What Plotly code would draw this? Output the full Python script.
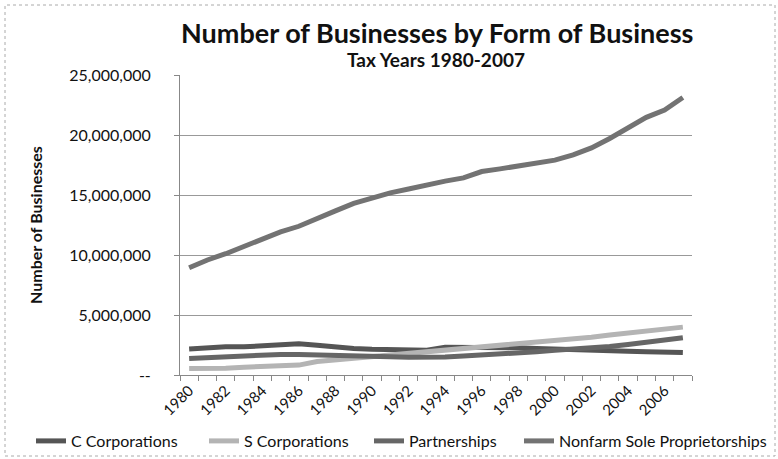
import plotly.graph_objects as go

years = list(range(1980, 2008))
c_corp = [2165, 2270, 2361, 2351, 2469, 2553, 2602, 2484, 2305, 2205, 2142, 2105, 2084, 2063,
          2319, 2321, 2327, 2258, 2261, 2211, 2185, 2136, 2113, 2060, 1984, 1946, 1882, 1865]
s_corp = [545, 541, 564, 648, 701, 725, 826, 1128, 1257, 1423, 1575, 1697, 1785, 1902,
          2024, 2153, 2304, 2452, 2588, 2726, 2860, 2986, 3154, 3342, 3518, 3684, 3873, 3990]
partnerships = [1380, 1461, 1514, 1542, 1644, 1714, 1703, 1648, 1654, 1635, 1554, 1515, 1485, 1468,
                1494, 1581, 1654, 1759, 1855, 1937, 2058, 2132, 2242, 2375, 2547, 2764, 2947, 3097]
nonfarm = [8932, 9585, 10106, 10704, 11262, 11929, 12394, 13091, 13679, 14298, 14783, 15181, 15495, 15848,
           16154, 16424, 16955, 17176, 17409, 17576, 17905, 18338, 18926, 19710, 20591, 21468, 22075, 23123]

series_names = ["C Corporations", "S Corporations", "Partnerships", "Nonfarm Sole Proprietorships"]
series_vals = [c_corp, s_corp, partnerships, nonfarm]
series_colors = ["#555555", "#b4b4b4", "#666666", "#737373"]

y_ticks = [0, 5000000, 10000000, 15000000, 20000000, 25000000]
y_ticktext = ["--", "5,000,000", "10,000,000", "15,000,000", "20,000,000", "25,000,000"]

cats = [str(y) for y in years]
x_ticktext = [str(y) if y % 2 == 0 else "" for y in years]

W, H = 778, 459
L, R, T, B = 180, 86, 75, 84
pw, ph = W - L - R, H - T - B


def px_x(px):
    return (px - L) / pw


def px_y(py):
    return (H - py - B) / ph


legend_ids = ["legend", "legend2", "legend3", "legend4"]
legend_left_px = [31, 204, 369, 519]

font_family = "Lato, 'Open Sans', sans-serif"

fig = go.Figure()
for name, vals, col, lid in zip(series_names, series_vals, series_colors, legend_ids):
    fig.add_trace(go.Scatter(
        x=cats, y=[v * 1000 for v in vals], mode="lines", name=name,
        line=dict(color=col, width=5), legend=lid))

legend_layout = {}
for lid, lx in zip(legend_ids, legend_left_px):
    legend_layout[lid] = dict(
        orientation="h", x=lx / W, xref="container", xanchor="left",
        y=(H - 441) / H, yref="container", yanchor="middle",
        font=dict(size=16, family=font_family, color="#111"),
        itemwidth=30, bgcolor="rgba(0,0,0,0)", borderwidth=0)

fig.update_layout(
    width=W, height=H,
    margin=dict(l=L, r=R, t=T, b=B, autoexpand=False),
    paper_bgcolor="white", plot_bgcolor="white",
    font=dict(family=font_family, color="#111111"),
    showlegend=True,
    annotations=[
        dict(text="<b>Number of Businesses by Form of Business</b>", x=px_x(437), y=px_y(32),
             xref="paper", yref="paper", xanchor="center", yanchor="middle",
             showarrow=False, font=dict(size=27)),
        dict(text="<b>Tax Years 1980-2007</b>", x=px_x(436), y=px_y(60),
             xref="paper", yref="paper", xanchor="center", yanchor="middle",
             showarrow=False, font=dict(size=19)),
    ],
    **legend_layout,
)
fig.update_xaxes(
    type="category", tickmode="array", tickvals=cats, ticktext=x_ticktext,
    range=[-0.5, len(cats) - 0.5], tickson="boundaries",
    tickangle=-45, tickfont=dict(size=15), ticks="outside", ticklen=5,
    tickcolor="#888", showline=True, linecolor="#888", linewidth=1,
    showgrid=False, automargin=False)
fig.update_yaxes(
    range=[0, 25000000], tickvals=y_ticks, ticktext=y_ticktext,
    tickfont=dict(size=16), showgrid=True, gridcolor="#999", gridwidth=1,
    showline=True, linecolor="#888", linewidth=1, ticks="outside", ticklen=5, tickcolor="#888",
    ticklabelstandoff=20, zeroline=False, automargin=False,
    title=dict(text="<b>Number of Businesses</b>", font=dict(size=16), standoff=22))
fig.add_shape(type="rect", xref="paper", yref="paper",
              x0=px_x(5), x1=px_x(W - 3), y0=px_y(H - 3), y1=px_y(5),
              line=dict(color="#aaa", width=1, dash="dot"))
fig.write_html("out.html", config={"displayModeBar": False},
               post_script="document.body.style.margin='0';document.body.style.overflow='hidden';")
